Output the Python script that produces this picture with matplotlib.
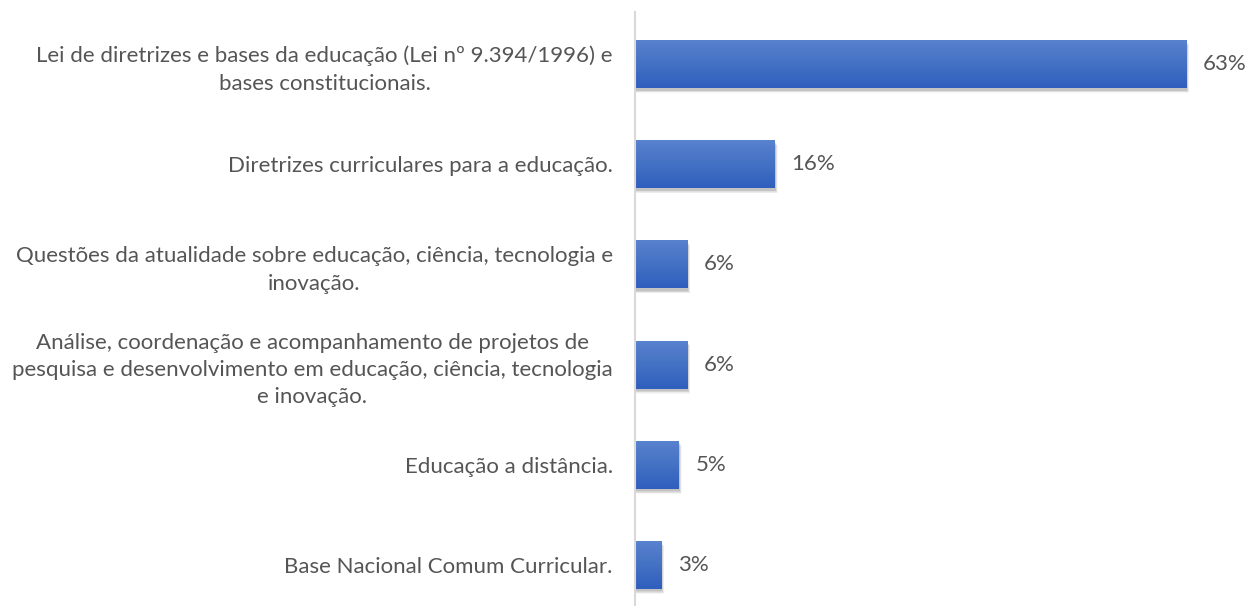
import matplotlib
matplotlib.use("Agg")
import matplotlib.pyplot as plt
import numpy as np
from matplotlib.patches import Rectangle
from matplotlib.colors import LinearSegmentedColormap

categories = [
    "Lei de diretrizes e bases da educação (Lei nº 9.394/1996) e\nbases constitucionais.",
    "Diretrizes curriculares para a educação.",
    "Questões da atualidade sobre educação, ciência, tecnologia e\ninovação.",
    "Análise, coordenação e acompanhamento de projetos de\npesquisa e desenvolvimento em educação, ciência, tecnologia\ne inovação.",
    "Educação a distância.",
    "Base Nacional Comum Curricular.",
]
values = [63, 16, 6, 6, 5, 3]
value_labels = ["63%", "16%", "6%", "6%", "5%", "3%"]

plt.rcParams['font.family'] = ['Lato', 'DejaVu Sans']
W, H = 1247, 606
fig = plt.figure(figsize=(W / 100, H / 100), dpi=100)
ax_left = 635 / W
ax = fig.add_axes([ax_left, 0, 1 - ax_left, 1 - 12 / H])

y = np.arange(len(categories))
bh = 0.48
bars = ax.barh(y, values, height=bh, color="none", edgecolor="none", zorder=3)
ax.set_xlim(0, (W - 635) / 8.75)
ax.set_ylim(5.41, -0.52)

cmap = LinearSegmentedColormap.from_list("g", ["#5A82CF", "#4472C4", "#2F5EBE"])
grad = np.linspace(0, 1, 256).reshape(-1, 1)
for bar in bars:
    x0, y0 = bar.get_x(), bar.get_y()
    w, h = bar.get_width(), bar.get_height()
    for k, a in enumerate([0.07, 0.06, 0.05, 0.04, 0.03]):
        sh = Rectangle((x0, y0 + 0.025 + k * 0.006), w + 0.1 + k * 0.06, h,
                       facecolor="black", alpha=a, edgecolor="none", zorder=2)
        ax.add_patch(sh)
    im = ax.imshow(grad, extent=(x0, x0 + w, y0 + h, y0), aspect="auto",
                   cmap=cmap, zorder=4, origin="upper")
    clip = Rectangle((x0, y0), w, h, transform=ax.transData)
    im.set_clip_path(clip)

ax.set_xlim(0, (W - 635) / 8.75)
ax.set_ylim(5.41, -0.52)

txt_color = "#555555"
for yi, v, lab in zip(y, values, value_labels):
    ax.text(v + 1.9, yi, lab, va="center", ha="left", fontsize=16, color=txt_color)

ax.set_yticks(y)
ax.set_yticklabels(categories, fontsize=16, color=txt_color)
for t in ax.get_yticklabels():
    t.set_multialignment("center")
    t.set_linespacing(1.45)
ax.tick_params(axis="y", length=0, pad=16)
ax.set_xticks([])
for s in ["top", "right", "bottom"]:
    ax.spines[s].set_visible(False)
ax.spines["left"].set_color("#D9D9D9")
ax.spines["left"].set_linewidth(1.5)
ax.spines["left"].set_zorder(5)

fig.savefig("out.png", dpi=100)
